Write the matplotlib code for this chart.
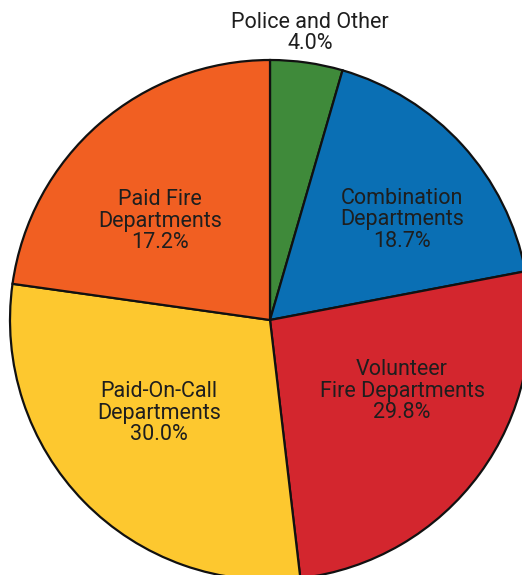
import matplotlib
matplotlib.use("Agg")
import matplotlib.pyplot as plt

# Categories, labelled percentages, and slice sizes as drawn in the reference (degrees)
categories = ["Police and Other", "Combination\nDepartments", "Volunteer\nFire Departments",
              "Paid-On-Call\nDepartments", "Paid Fire\nDepartments"]
label_pct = [4.0, 18.7, 29.8, 30.0, 17.2]
drawn_deg = [16.2, 63.0, 94.1, 104.7, 82.0]
colors = ["#3f8a3a", "#0a6fb4", "#d3262e", "#fdc82f", "#f15f22"]

W, H = 522, 575
fig = plt.figure(figsize=(W / 100, H / 100), dpi=100)
ax = fig.add_axes([0, 0, 1, 1])

cx, cy, r = 270, H - 320, 260
ax.pie(drawn_deg, colors=colors, startangle=90, counterclock=False,
       center=(cx, cy), radius=r, frame=True,
       wedgeprops=dict(edgecolor="#111111", linewidth=1.6))
ax.set_xlim(0, W)
ax.set_ylim(0, H)
ax.set_aspect("equal")
ax.axis("off")

label_pos = [(310, 33), (402, 220), (402, 391), (159, 413), (160, 221)]
for cat, pct, (x, y) in zip(categories, label_pct, label_pos):
    ax.text(x, H - y, f"{cat}\n{pct:.1f}%", ha="center", va="center",
            fontsize=15.5, color="#1e1e1e", linespacing=1.04,
            family=["Roboto", "DejaVu Sans"])

fig.savefig("out.png", dpi=100)
